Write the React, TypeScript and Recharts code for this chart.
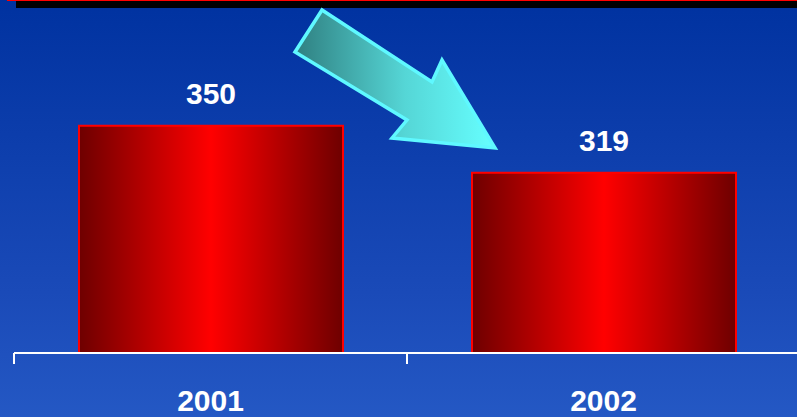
import { Bar, BarChart, LabelList, XAxis, YAxis } from "recharts";

const years = ["2001", "2002"];
const counts = [350, 319];
const yDomain = [200, 400];

const data = years.map((year, i) => ({ year, count: counts[i] }));

const font = "'Liberation Sans', Arial, sans-serif";

// category label plus the white divider ticks at each band's edges
const YearTick = (props: any) => {
  const { x, y, payload, width, visibleTicksCount, index } = props;
  const band = width / visibleTicksCount;
  const left = x - band / 2;
  const right = x + band / 2;
  const top = y - 37;
  return (
    <g>
      <line x1={left} x2={left} y1={top} y2={top + 11} stroke="#fff" strokeWidth={2} />
      {index === visibleTicksCount - 1 && (
        <line x1={right} x2={right} y1={top} y2={top + 11} stroke="#fff" strokeWidth={2} />
      )}
      <text
        x={x}
        y={y}
        dy="0.71em"
        textAnchor="middle"
        fill="#fff"
        fontSize={30}
        fontWeight="bold"
        fontFamily={font}
      >
        {payload.value}
      </text>
    </g>
  );
};

const Arrow = () => (
  <svg
    width={797}
    height={417}
    style={{ position: "absolute", left: 0, top: 0, pointerEvents: "none" }}
  >
    <defs>
      <linearGradient id="arrowFill" x1="0" y1="0" x2="1" y2="0">
        <stop offset="0%" stopColor="#2f7f80" />
        <stop offset="55%" stopColor="#55d6d6" />
        <stop offset="100%" stopColor="#66ffff" />
      </linearGradient>
    </defs>
    <polygon
      points="322,10 295,52 407,120 392,138 495,148 442,60 432,82"
      fill="url(#arrowFill)"
      stroke="#5ff8ff"
      strokeWidth={3.5}
      strokeLinejoin="miter"
    />
  </svg>
);

export default function App() {
  return (
    <div
      style={{
        position: "fixed",
        left: 0,
        top: 0,
        width: 797,
        height: 417,
        overflow: "hidden",
        background: "linear-gradient(to bottom, #0032a0 0%, #1a4ab8 70%, #2458c4 100%)",
      }}
    >
      <div style={{ position: "absolute", left: 7, top: 0, right: 0, height: 1, background: "#ff0000" }} />
      <div style={{ position: "absolute", left: 16, top: 1, right: 0, height: 7, background: "#000" }} />
      <BarChart
        width={800}
        height={417}
        data={data}
        margin={{ top: 50, right: 0, left: 14, bottom: 0 }}
        barCategoryGap={0}
      >
        <defs>
          <linearGradient id="barFill" x1="0" y1="0" x2="1" y2="0">
            <stop offset="0%" stopColor="#6e0000" />
            <stop offset="50%" stopColor="#ff0000" />
            <stop offset="100%" stopColor="#6e0000" />
          </linearGradient>
        </defs>
        <XAxis
          dataKey="year"
          height={64}
          axisLine={{ stroke: "#fff", strokeWidth: 2 }}
          tickLine={false}
          tickSize={0}
          tickMargin={37}
          tick={<YearTick />}
        />
        <YAxis hide domain={yDomain} allowDataOverflow />
        <Bar
          dataKey="count"
          barSize={264}
          fill="url(#barFill)"
          stroke="#ff0000"
          strokeWidth={2}
          isAnimationActive={false}
        >
          <LabelList
            dataKey="count"
            position="top"
            offset={22}
            fill="#fff"
            fontSize={30}
            fontWeight="bold"
            fontFamily={font}
          />
        </Bar>
      </BarChart>
      <Arrow />
    </div>
  );
}
